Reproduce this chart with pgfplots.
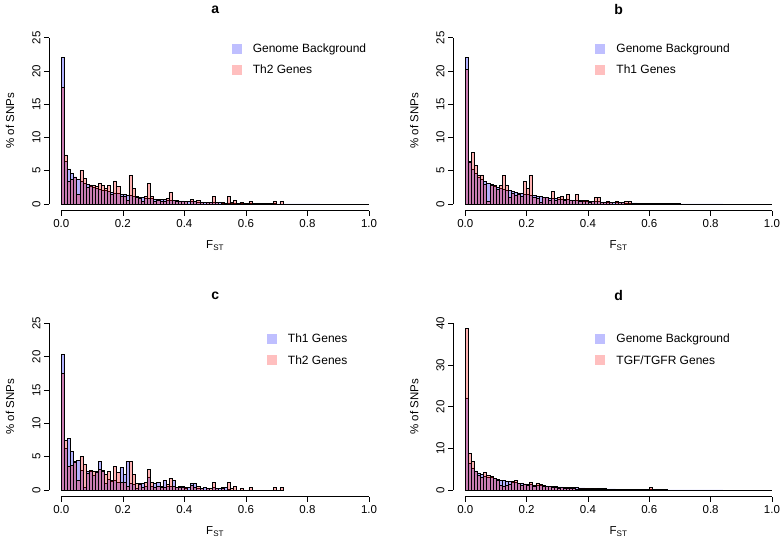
\documentclass[border=0pt]{standalone}
\usepackage{fontspec}
\setmainfont{Liberation Sans}
\usepackage{pgfplots}
\usepackage{pgfplotstable}
\pgfplotsset{compat=1.18}

\pgfplotstableread[header=false,row sep=\\]{
22.1\\ 6.4\\ 5.3\\ 4.6\\ 4.1\\ 3.7\\ 3.4\\ 3.15\\ 2.95\\ 2.75\\
2.55\\ 2.4\\ 2.25\\ 2.1\\ 2.0\\ 1.88\\ 1.77\\ 1.67\\ 1.57\\ 1.48\\
1.40\\ 1.32\\ 1.25\\ 1.18\\ 1.11\\ 1.05\\ 0.99\\ 0.93\\ 0.88\\ 0.83\\
0.78\\ 0.74\\ 0.70\\ 0.66\\ 0.62\\ 0.58\\ 0.55\\ 0.52\\ 0.49\\ 0.46\\
0.43\\ 0.40\\ 0.38\\ 0.36\\ 0.34\\ 0.32\\ 0.30\\ 0.28\\ 0.26\\ 0.24\\
0.22\\ 0.21\\ 0.19\\ 0.18\\ 0.17\\ 0.16\\ 0.15\\ 0.14\\ 0.13\\ 0.12\\
0.11\\ 0.10\\ 0.09\\ 0.08\\ 0.08\\ 0.07\\ 0.06\\ 0.06\\ 0.05\\ 0.05\\
0.04\\ 0.04\\ 0.03\\ 0.03\\ 0.03\\ 0.02\\ 0.02\\ 0.02\\ 0.02\\ 0.01\\
0.01\\ 0.01\\ 0.01\\ 0.01\\ 0\\ 0\\ 0\\ 0\\ 0\\ 0\\
0\\ 0\\ 0\\ 0\\ 0\\ 0\\ 0\\ 0\\ 0\\ 0\\
}\genome

\pgfplotstableread[header=false,row sep=\\]{
20.3\\ 6.3\\ 7.75\\ 5.8\\ 4.35\\ 4.4\\ 3.0\\ 0.4\\ 2.8\\ 2.8\\
2.2\\ 2.8\\ 4.35\\ 2.9\\ 1.0\\ 1.6\\ 1.3\\ 1.5\\ 1.2\\ 3.4\\
2.4\\ 4.35\\ 1.0\\ 0.8\\ 0.2\\ 1.0\\ 1.0\\ 0.5\\ 1.9\\ 0.5\\
1.0\\ 1.1\\ 0.5\\ 1.4\\ 0.6\\ 0.5\\ 1.4\\ 0.4\\ 0.5\\ 0.5\\
0.3\\ 0.4\\ 1.0\\ 1.0\\ 0.3\\ 0.2\\ 0.4\\ 0.2\\ 0\\ 0.4\\
0.2\\ 0.2\\ 0.4\\ 0.4\\ 0.1\\ 0\\
}\thone

\pgfplotstableread[header=false,row sep=\\]{
17.5\\ 7.4\\ 3.5\\ 3.7\\ 4.1\\ 1.4\\ 5.05\\ 3.9\\ 2.5\\ 2.9\\
2.8\\ 2.6\\ 3.1\\ 2.8\\ 2.4\\ 2.8\\ 1.4\\ 3.5\\ 2.6\\ 1.1\\
1.2\\ 0.5\\ 4.3\\ 2.4\\ 1.0\\ 0.8\\ 0.4\\ 1.2\\ 3.1\\ 1.2\\
0.4\\ 0.5\\ 0.4\\ 0.4\\ 0.8\\ 1.8\\ 0.6\\ 0.4\\ 0.4\\ 0.4\\
0.4\\ 0\\ 0.7\\ 0.4\\ 0.6\\ 0.3\\ 0\\ 0.2\\ 0.2\\ 1.1\\
0.3\\ 0\\ 0.2\\ 0\\ 1.1\\ 0.3\\ 0.6\\ 0\\ 0.3\\ 0\\
0\\ 0.4\\ 0\\ 0\\ 0\\ 0\\ 0\\ 0\\ 0\\ 0.35\\
0\\ 0.35\\
}\thtwo

\pgfplotstableread[header=false,row sep=\\]{
38.8\\ 8.8\\ 6.8\\ 4.5\\ 3.5\\ 3.0\\ 4.2\\ 3.6\\ 3.2\\ 2.8\\
2.4\\ 1.2\\ 1.0\\ 1.2\\ 1.5\\ 2.0\\ 2.4\\ 1.6\\ 1.2\\ 1.5\\
1.1\\ 1.8\\ 1.0\\ 1.7\\ 1.3\\ 0.9\\ 0.9\\ 0.9\\ 0.7\\ 0.6\\
0.5\\ 0.6\\ 0.4\\ 0.5\\ 0.4\\ 0.4\\ 0.3\\ 0.3\\ 0.3\\ 0.3\\
0.3\\ 0.2\\ 0.3\\ 0.2\\ 0.2\\ 0.2\\ 0.1\\ 0.2\\ 0.1\\ 0.1\\
0.1\\ 0.1\\ 0.1\\ 0.2\\ 0.1\\ 0.1\\ 0.1\\ 0.1\\ 0\\ 0.1\\
0.6\\ 0.2\\ 0.1\\ 0\\
}\tgf

\newcommand{\fs}{\fontsize{11.5}{13}\selectfont}

\pgfplotsset{
 panel/.style={
  scale only axis, xmin=-0.04, xmax=1.04,
  axis line style={draw=none},
  tick align=outside, xtick pos=bottom, ytick pos=left,
  major tick length=5pt, tick style={black, line width=0.6pt},
  xtick={0,0.2,0.4,0.6,0.8,1.0}, xticklabels={0.0,0.2,0.4,0.6,0.8,1.0},
  yticklabel style={rotate=90, anchor=south},
  ticklabel style={font=\fs},
  /pgf/number format/assume math mode=true,
  xlabel={F\textsubscript{ST}}, ylabel={\% of SNPs},
  label style={font=\fs},
  xlabel style={at={(axis description cs:0.5,-0.195)}, anchor=center},
  ylabel style={at={(axis description cs:-0.117,0.5)}, anchor=center},
  title style={at={(axis description cs:0.5,1.085)}, anchor=center, font=\fontsize{14}{16}\selectfont\bfseries},
  legend style={draw=none, fill=none, anchor=north west, font=\fontsize{12}{14}\selectfont, row sep=7pt, column sep=9pt, inner sep=0pt, outer sep=0pt},
  legend cell align=left,
 },
 bgbar/.style={ybar, bar width=0.01, bar shift=0pt, fill=blue, fill opacity=0.3, draw=black, line width=0.5pt,
   legend image code/.code={\fill[fill=blue!25, fill opacity=1, draw=none] (0pt,-5pt) rectangle (10pt,5pt);}},
 fgbar/.style={ybar, bar width=0.01, bar shift=0pt, fill=red, fill opacity=0.3, draw=black, line width=0.5pt,
   legend image code/.code={\fill[fill=red!25, fill opacity=1, draw=none] (0pt,-5pt) rectangle (10pt,5pt);}},
}

\begin{document}
\begin{tikzpicture}
\path[use as bounding box] (0pt,0pt) rectangle (784pt,543pt);

% panel a
\begin{axis}[panel, at={(49pt,332.3pt)}, anchor=south west, width=332.3pt, height=179.6pt,
  ymin=-1, ymax=26, ytick={0,5,10,15,20,25}, title={a},
  legend style={at={(0.55,0.94)}}]
\addplot[bgbar] table[x expr=\coordindex*0.01+0.005, y index=0] {\genome};
\addlegendentry{Genome Background}
\addplot[fgbar] table[x expr=\coordindex*0.01+0.005, y index=0] {\thtwo};
\addlegendentry{Th2 Genes}
\draw[line width=0.6pt] (axis cs:0,-1) -- (axis cs:1,-1);
\draw[line width=0.6pt] (axis cs:-0.04,0) -- (axis cs:-0.04,25);
\end{axis}

% panel b
\begin{axis}[panel, at={(453pt,332.3pt)}, anchor=south west, width=331.2pt, height=179.6pt,
  ymin=-1, ymax=26, ytick={0,5,10,15,20,25}, title={b},
  legend style={at={(0.43,0.94)}}]
\addplot[bgbar] table[x expr=\coordindex*0.01+0.005, y index=0] {\genome};
\addlegendentry{Genome Background}
\addplot[fgbar] table[x expr=\coordindex*0.01+0.005, y index=0] {\thone};
\addlegendentry{Th1 Genes}
\draw[line width=0.6pt] (axis cs:0,-1) -- (axis cs:1,-1);
\draw[line width=0.6pt] (axis cs:-0.04,0) -- (axis cs:-0.04,25);
\end{axis}

% panel c
\begin{axis}[panel, at={(49pt,46.3pt)}, anchor=south west, width=332.3pt, height=180pt,
  ymin=-1, ymax=26, ytick={0,5,10,15,20,25}, title={c},
  legend style={at={(0.656,0.914)}}]
\addplot[bgbar] table[x expr=\coordindex*0.01+0.005, y index=0] {\thone};
\addlegendentry{Th1 Genes}
\addplot[fgbar] table[x expr=\coordindex*0.01+0.005, y index=0] {\thtwo};
\addlegendentry{Th2 Genes}
\draw[line width=0.6pt] (axis cs:0,-1) -- (axis cs:1,-1);
\draw[line width=0.6pt] (axis cs:-0.04,0) -- (axis cs:-0.04,25);
\end{axis}

% panel d
\begin{axis}[panel, at={(453pt,46.3pt)}, anchor=south west, width=331.2pt, height=180pt,
  ymin=-1.6, ymax=41.6, ytick={0,10,20,30,40}, title={d},
  legend style={at={(0.43,0.914)}}]
\addplot[bgbar] table[x expr=\coordindex*0.01+0.005, y index=0] {\genome};
\addlegendentry{Genome Background}
\addplot[fgbar] table[x expr=\coordindex*0.01+0.005, y index=0] {\tgf};
\addlegendentry{TGF/TGFR Genes}
\draw[line width=0.6pt] (axis cs:0,-1.6) -- (axis cs:1,-1.6);
\draw[line width=0.6pt] (axis cs:-0.04,0) -- (axis cs:-0.04,40);
\end{axis}
\end{tikzpicture}
\end{document}
